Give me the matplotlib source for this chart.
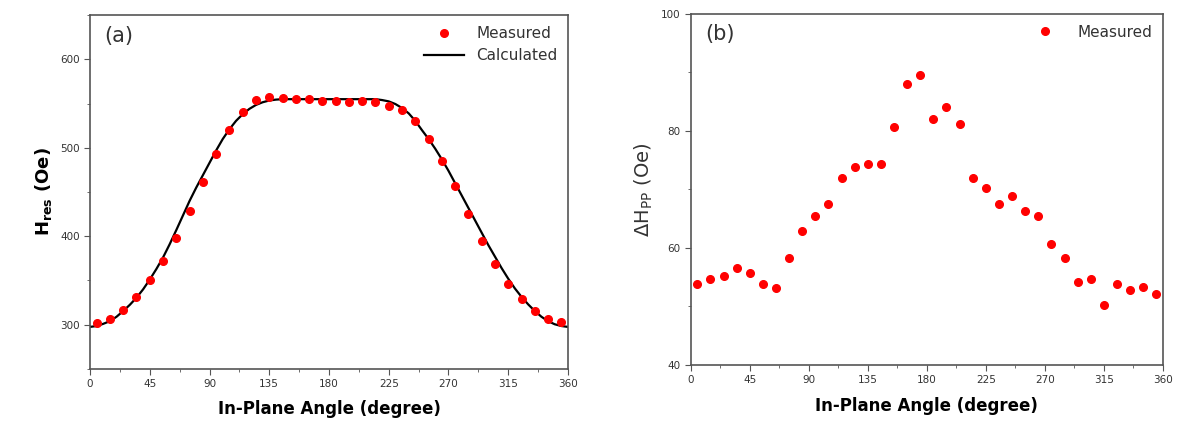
import matplotlib
matplotlib.use("Agg")
import matplotlib.pyplot as plt
from matplotlib.ticker import MultipleLocator

# measured points every 10 degrees
angles = [5 + 10 * i for i in range(36)]

h_res = [301.5, 306, 316.2, 331.4, 350.2, 372.1, 397.7, 428.3, 460.8, 492.9,
         520, 540.8, 554, 557.4, 556.3, 554.8, 555.6, 552.9, 552.5, 551.4,
         552.9, 551.4, 547.7, 543.2, 529.9, 509.9, 485.4, 456.3, 424.9, 394.3,
         368.7, 346.4, 328.7, 315.1, 306, 303.1]

# calculated curve every 5 degrees
calc_angles = [5 * i for i in range(73)]
h_calc = [297.5, 298.5, 301, 304, 309, 315.5, 322.5, 330.5, 340, 351,
          363, 376, 391, 407, 423.5, 440, 455, 469, 483, 497,
          510, 521, 530.5, 538, 544, 548.5, 551.5, 553.5, 554.5, 555,
          555, 555, 555, 555, 555, 555, 555, 555, 555, 555,
          555, 555, 555, 555, 554, 552.5, 549.5, 545, 539, 530.5,
          520, 510, 499, 487, 474, 460, 446, 432, 418, 404,
          390, 377, 364, 352, 341, 331.5, 323, 315.5, 309, 304,
          300.5, 298.5, 297.5]

dh_pp = [53.8, 54.7, 55.2, 56.6, 55.7, 53.8, 53.2, 58.2, 62.9, 65.5,
         67.5, 71.9, 73.8, 74.3, 74.3, 80.7, 88.1, 89.5, 82.1, 84.0,
         81.2, 71.9, 70.3, 67.5, 68.9, 66.4, 65.5, 60.6, 58.2, 54.2,
         54.7, 50.3, 53.8, 52.8, 53.3, 52.2]

spine_col = "#555555"
txt_col = "#333333"

fig = plt.figure(figsize=(11.89, 4.33), dpi=100)
ax1 = fig.add_axes([0.0757, 0.148, 0.402, 0.817])
ax2 = fig.add_axes([0.581, 0.157, 0.397, 0.811])


def style(ax):
    ax.set_xlim(0, 360)
    ax.xaxis.set_major_locator(MultipleLocator(45))
    ax.xaxis.set_minor_locator(MultipleLocator(22.5))
    ax.tick_params(which="both", direction="out", colors=spine_col,
                   labelcolor=txt_col, labelsize=7.5, top=False, right=False)
    ax.tick_params(which="major", length=4)
    ax.tick_params(which="minor", length=2.5)
    for s in ax.spines.values():
        s.set_color(spine_col)
        s.set_linewidth(1.2)
    ax.set_xlabel("In-Plane Angle (degree)", fontsize=12, fontweight="bold",
                  labelpad=8)


ax1.plot(angles, h_res, "o", color="red", markersize=5.5, label="Measured", zorder=3)
ax1.plot(calc_angles, h_calc, "-", color="black", lw=1.6, label="Calculated")
style(ax1)
ax1.set_ylim(250, 650)
ax1.yaxis.set_major_locator(MultipleLocator(100))
ax1.yaxis.set_minor_locator(MultipleLocator(50))
ax1.set_ylabel(r"$\mathbf{H_{res}}$ (Oe)", fontsize=13, fontweight="bold")
ax1.text(0.03, 0.97, "(a)", transform=ax1.transAxes, fontsize=15,
         color=txt_col, va="top", ha="left")
ax1.legend(loc="upper right", frameon=False, fontsize=11, handlelength=2.6,
           labelcolor=txt_col, borderaxespad=0.3)

ax2.plot(angles, dh_pp, "o", color="red", markersize=5.5, label="Measured")
style(ax2)
ax2.set_ylim(40, 100)
ax2.yaxis.set_major_locator(MultipleLocator(20))
ax2.yaxis.set_minor_locator(MultipleLocator(10))
ax2.set_ylabel(r"$\Delta$H$_{\mathrm{PP}}$ (Oe)", fontsize=14, color=txt_col)
ax2.text(0.03, 0.97, "(b)", transform=ax2.transAxes, fontsize=15,
         color=txt_col, va="top", ha="left")
ax2.legend(loc="upper right", frameon=False, fontsize=11, handlelength=2.6,
           labelcolor=txt_col, borderaxespad=0.3)

fig.savefig("out.png", dpi=100)
